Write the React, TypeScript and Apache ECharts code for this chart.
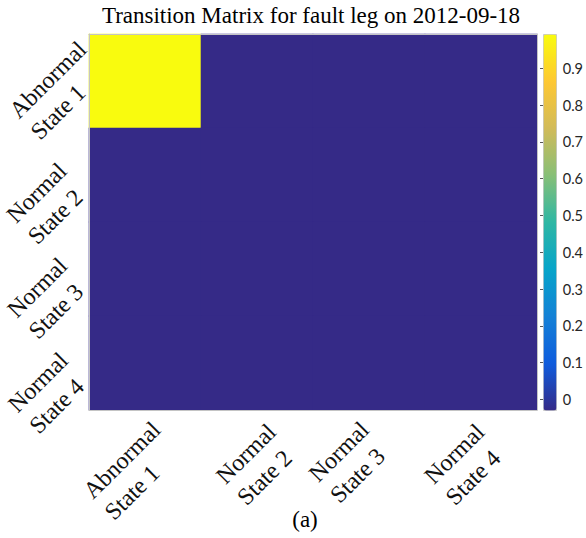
import React, { useEffect, useRef } from 'react';
import * as echarts from 'echarts';

// ---- data ----
const states: string[] = ['Abnormal\nState 1', 'Normal\nState 2', 'Normal\nState 3', 'Normal\nState 4'];
const matrix: number[][] = [
  [1, 0, 0, 0],
  [0, 0, 0, 0],
  [0, 0, 0, 0],
  [0, 0, 0, 0],
];
const colorbarMin = 0;
const colorbarMax = 0.9;
const colorbarStep = 0.1;
const titleText = 'Transition Matrix for fault leg on 2012-09-18';
const captionText = '(a)';

// ---- styles ----
const parula = ['#352a87', '#0f5cdd', '#1481d6', '#06a4ca', '#2eb7a4', '#87bf77', '#d1bb59', '#fec832', '#f9fb0e'];
const SERIF = 'Liberation Serif, Times New Roman, serif';
const xLabelPadding = [
  [71, 4.5, 0, 0],
  [79, 3.5, 0, 0],
  [49, 15.5, 0, 0],
  [57, 14.5, 0, 0],
];
const yLabelPadding = [
  [0, 0, 71, 0],
  [0, 33.5, 60, 0],
  [0, 33.5, 58, 0],
  [0, 33.5, 56, 0],
];

const richFormatter = (v: string) =>
  v.split('\n').map((l) => `{a|${l}}`).join('\n');

const rich = {
  a: { fontFamily: SERIF, fontSize: 24, lineHeight: 30, color: '#111', align: 'left' },
};

export default function App() {
  const ref = useRef<HTMLDivElement>(null);
  useEffect(() => {
    if (!ref.current) return;
    const chart = echarts.init(ref.current, undefined, { renderer: 'svg' });
    const data: [number, number, number][] = [];
    matrix.forEach((row, r) => row.forEach((v, c) => data.push([c, r, v])));

    const lineColor = '#c4c4c4';
    const tickStyle = { inside: true, alignWithLabel: true, length: 3.5, lineStyle: { color: '#666' } };

    const option: any = {
      animation: false,
      title: [
        {
          text: titleText,
          left: 311,
          top: 4,
          padding: 0,
          textAlign: 'center',
          textStyle: { fontFamily: SERIF, fontSize: 23, fontWeight: 'normal', color: '#000' },
        },
        {
          text: captionText,
          left: 305,
          top: 508,
          padding: 0,
          textAlign: 'center',
          textStyle: { fontFamily: SERIF, fontSize: 23, fontWeight: 'normal', color: '#000' },
        },
      ],
      grid: [
        { left: 85, top: 34, width: 452, height: 376, show: true, backgroundColor: parula[0], borderWidth: 0 },
        { left: 543, top: 68.3, width: 13, height: 331.2 },
      ],
      xAxis: [
        {
          type: 'category',
          gridIndex: 0,
          position: 'bottom',
          data: states.map((s, i) => ({ value: s, textStyle: { padding: xLabelPadding[i] } })),
          axisLine: { show: true, lineStyle: { color: lineColor } },
          axisTick: tickStyle,
          splitLine: { show: false },
          axisLabel: {
            interval: 0,
            rotate: 45,
            margin: -2,
            align: 'right',
            verticalAlign: 'middle',
            formatter: richFormatter,
            rich,
          },
          z: 10,
        },
        {
          type: 'category',
          gridIndex: 0,
          position: 'top',
          data: states,
          axisLine: { show: true, lineStyle: { color: lineColor } },
          axisTick: tickStyle,
          axisLabel: { show: false },
          z: 10,
        },
        { type: 'value', gridIndex: 1, show: false, min: 0, max: 1 },
      ],
      yAxis: [
        {
          type: 'category',
          gridIndex: 0,
          inverse: true,
          position: 'left',
          data: states.map((s, i) => ({ value: s, textStyle: { padding: yLabelPadding[i] } })),
          axisLine: { show: true, lineStyle: { color: lineColor } },
          axisTick: tickStyle,
          splitLine: { show: false },
          axisLabel: {
            interval: 0,
            rotate: 45,
            margin: -29,
            align: 'right',
            verticalAlign: 'middle',
            formatter: richFormatter,
            rich,
          },
          z: 10,
        },
        {
          type: 'category',
          gridIndex: 0,
          inverse: true,
          position: 'right',
          data: states,
          axisLine: { show: true, lineStyle: { color: lineColor } },
          axisTick: tickStyle,
          axisLabel: { show: false },
          z: 10,
        },
        {
          type: 'value',
          gridIndex: 1,
          position: 'right',
          min: colorbarMin,
          max: colorbarMax,
          interval: colorbarStep,
          axisLine: { show: false },
          axisTick: { show: true, inside: true, length: 3, lineStyle: { color: '#555' } },
          splitLine: { show: false },
          axisLabel: {
            margin: 10,
            fontFamily: 'Lato',
            fontSize: 14.5,
            color: '#262626',
            formatter: (v: number) => String(+v.toFixed(1)),
          },
          z: 10,
        },
      ],
      visualMap: {
        type: 'continuous',
        min: 0,
        max: 1,
        seriesIndex: 0,
        calculable: false,
        realtime: false,
        left: 543,
        top: 34,
        itemWidth: 13,
        itemHeight: 376,
        padding: 0,
        text: null,
        borderColor: '#c8c8c8',
        borderWidth: 1,
        inRange: { color: parula },
      },
      series: [
        {
          type: 'heatmap',
          xAxisIndex: 0,
          yAxisIndex: 0,
          data,
          itemStyle: { borderWidth: 0 },
          emphasis: { disabled: true },
        },
      ],
    };
    chart.setOption(option);
    return () => chart.dispose();
  }, []);
  return (
    <div
      ref={ref}
      style={{ position: 'fixed', left: 0, top: 0, width: 586, height: 538, background: '#fff' }}
    />
  );
}
